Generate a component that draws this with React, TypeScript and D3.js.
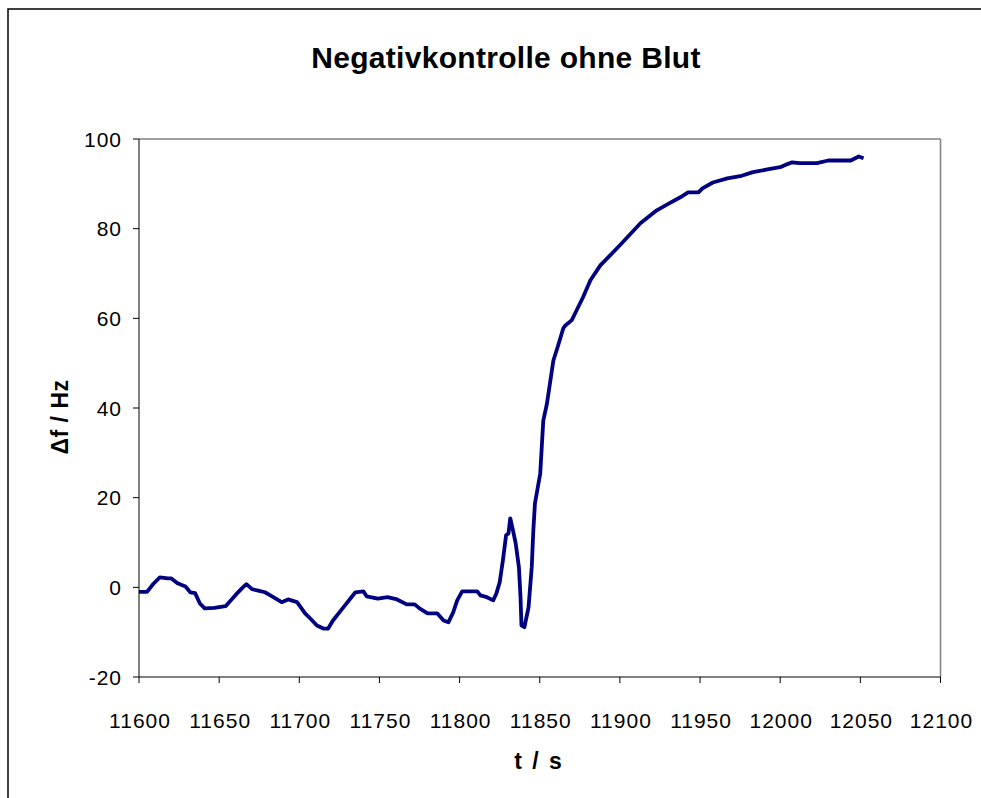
import React from "react";
import * as d3 from "d3";

const title = "Negativkontrolle ohne Blut";
const xLabel = "t / s";
const yLabel = "Δf / Hz";
const xTicks = [11600, 11650, 11700, 11750, 11800, 11850, 11900, 11950, 12000, 12050, 12100];
const yTicks = [-20, 0, 20, 40, 60, 80, 100];

const tValues = [
  11600, 11605, 11609, 11613, 11618, 11620, 11624, 11629, 11632, 11635, 11638,
  11641, 11647, 11654, 11660, 11664, 11667, 11670.5, 11675, 11678.6, 11683,
  11689, 11693, 11698.6, 11703.6, 11706.7, 11711, 11715, 11718, 11721, 11727,
  11735, 11740, 11742, 11749, 11755, 11761, 11767, 11772, 11775, 11780, 11786,
  11790, 11793, 11796, 11798.5, 11801.6, 11807, 11811, 11813, 11817, 11821,
  11823, 11825, 11827, 11829, 11830.5, 11831.6, 11833, 11835, 11837, 11838,
  11838.6, 11840.4, 11843, 11845, 11846, 11847, 11850.3, 11852.2, 11854.5,
  11858.5, 11861.5, 11864.7, 11866, 11870, 11873, 11877, 11881.6, 11887.8,
  11900, 11912.8, 11923, 11931, 11937.7, 11942.5, 11949, 11951.5, 11958, 11967,
  11975, 11983, 11992, 12000, 12004.5, 12007.5, 12012, 12023, 12030, 12044,
  12049, 12052,
];

const dfValues = [
  -1, -1, 0.8, 2.2, 2, 2, 0.9, 0.2, -1.1, -1.3, -3.6, -4.7, -4.6, -4.2, -1.8,
  -0.3, 0.7, -0.4, -0.8, -1.1, -2, -3.3, -2.7, -3.3, -5.8, -6.9, -8.5, -9.2,
  -9.2, -7.4, -4.7, -1.1, -0.9, -2, -2.5, -2.2, -2.7, -3.8, -3.8, -4.7, -5.8,
  -5.8, -7.4, -7.8, -5.6, -2.9, -0.9, -0.9, -0.9, -1.8, -2.2, -2.9, -1.3, 1.1,
  6, 11.6, 12, 15.4, 13.2, 9.8, 4.5, -2.2, -8.5, -8.9, -4.5, 4.5, 12.7, 18.7,
  25.4, 37.2, 41, 50.6, 54, 57.8, 58.4, 59.6, 61.8, 64.7, 68.5, 71.8, 76.3,
  81.2, 84.1, 85.7, 87, 88.1, 88.1, 89, 90.3, 91.2, 91.7, 92.6, 93.2, 93.7,
  94.4, 94.8, 94.6, 94.6, 95.2, 95.2, 96.1, 95.7,
];

const W = 981;
const H = 798;
const left = 139;
const right = 940.5;
const top = 139;
const bottom = 677;
const font = "Liberation Sans, Arial, sans-serif";

export default function App() {
  const x = d3.scaleLinear().domain([11600, 12100]).range([left, right]);
  const y = d3.scaleLinear().domain([-20, 100]).range([bottom, top]);
  const pts: [number, number][] = tValues.map((t, i) => [t, dfValues[i]]);
  const line = d3
    .line<[number, number]>()
    .x((d) => x(d[0]))
    .y((d) => y(d[1]));

  return (
    <svg
      width={W}
      height={H}
      style={{ position: "absolute", left: 0, top: 0, background: "#fff" }}
      fontFamily={font}
    >
      <rect x={0} y={0} width={W} height={H} fill="#fff" />
      <rect x={8} y={9} width={W + 20} height={H + 20} fill="none" stroke="#000" strokeWidth={1.5} />
      <text x={506} y={68} textAnchor="middle" fontSize={30} fontWeight="bold" letterSpacing={0.3}>
        {title}
      </text>
      {/* plot frame */}
      <line x1={left} x2={right} y1={top} y2={top} stroke="#808080" strokeWidth={1.5} />
      <line x1={right} x2={right} y1={top} y2={bottom} stroke="#808080" strokeWidth={1.5} />
      <line x1={left} x2={left} y1={top} y2={bottom} stroke="#000" strokeWidth={1} />
      <line x1={left} x2={right} y1={bottom} y2={bottom} stroke="#000" strokeWidth={1} />
      {yTicks.map((v) => (
        <g key={"y" + v}>
          <line x1={left - 6} x2={left} y1={y(v)} y2={y(v)} stroke="#000" />
          <text x={left - 17} y={y(v) + 7.5} textAnchor="end" fontSize={21} letterSpacing={1}>
            {v}
          </text>
        </g>
      ))}
      {xTicks.map((v) => (
        <g key={"x" + v}>
          <line x1={x(v)} x2={x(v)} y1={bottom} y2={bottom + 6} stroke="#000" />
          <text x={x(v) + 1} y={bottom + 51} textAnchor="middle" fontSize={21} letterSpacing={1}>
            {v}
          </text>
        </g>
      ))}
      <text x={539} y={769} textAnchor="middle" fontSize={23} fontWeight="bold" letterSpacing={2}>
        {xLabel}
      </text>
      <text
        transform={`translate(68, 417) rotate(-90)`}
        textAnchor="middle"
        fontSize={23}
        fontWeight="bold"
        letterSpacing={0.5}
      >
        {yLabel}
      </text>
      <path d={line(pts) || ""} fill="none" stroke="#000080" strokeWidth={3.8} strokeLinejoin="round" />
    </svg>
  );
}
